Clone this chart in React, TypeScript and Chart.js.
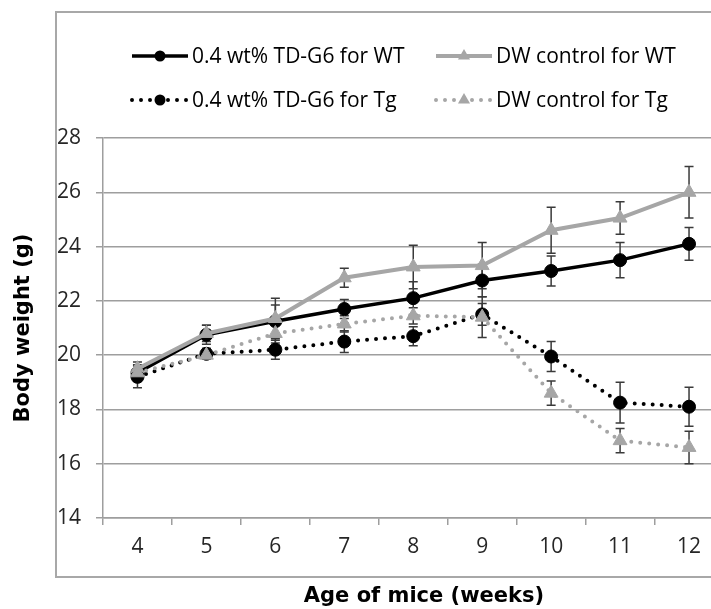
import React, { useEffect, useRef } from 'react';
import { Chart, registerables } from 'chart.js';

Chart.register(...registerables);

// ---- data ----
const weeks = ['4', '5', '6', '7', '8', '9', '10', '11', '12'];
const seriesLabels = [
  '0.4 wt% TD-G6 for WT',
  'DW control for WT',
  '0.4 wt% TD-G6 for Tg',
  'DW control for Tg',
];
const tdWT = [19.35, 20.75, 21.25, 21.7, 22.1, 22.75, 23.1, 23.5, 24.1];
const tdWTErr = [0.3, 0.35, 0.6, 0.35, 0.6, 0.6, 0.55, 0.65, 0.6];
const dwWT = [19.5, 20.8, 21.35, 22.85, 23.25, 23.3, 24.6, 25.05, 26.0];
const dwWTErr = [0.25, 0.3, 0.75, 0.35, 0.8, 0.85, 0.85, 0.6, 0.95];
const tdTg = [19.2, 20.05, 20.2, 20.5, 20.7, 21.5, 19.95, 18.25, 18.1];
const tdTgErr = [0.4, 0.2, 0.35, 0.4, 0.35, 0.4, 0.55, 0.75, 0.72];
const dwTg = [19.35, 20.0, 20.8, 21.15, 21.45, 21.4, 18.6, 16.85, 16.6];
const dwTgErr = [0.3, 0.15, 0.35, 0.3, 0.3, 0.75, 0.45, 0.45, 0.6];
const yMin = 14;
const yMax = 28;
const yStep = 2;
const xTitle = 'Age of mice (weeks)';
const yTitle = 'Body weight (g)';

const errorSets = [tdWTErr, dwWTErr, tdTgErr, dwTgErr];

// ---- styles ----
const BLACK = '#000000';
const GRAY = '#a6a6a6';
const GRID = '#9e9e9e';
const TICK_COLOR = '#262626';
const ERR_COLOR = '#3a3a3a';
const SANS = '"Open Sans", "Noto Sans", sans-serif';
const BOLD = '"DejaVu Sans", sans-serif';

const errorBarPlugin = {
  id: 'errorBars',
  beforeDatasetsDraw(chart: any) {
    const { ctx } = chart;
    const xs = chart.scales.x;
    const ys = chart.scales.y;
    ctx.save();
    ctx.strokeStyle = ERR_COLOR;
    ctx.lineWidth = 1.5;
    ctx.setLineDash([]);
    chart.data.datasets.forEach((ds: any, di: number) => {
      const errs = errorSets[di];
      ds.data.forEach((v: number, i: number) => {
        const px = xs.getPixelForValue(i);
        const top = ys.getPixelForValue(v + errs[i]);
        const bot = ys.getPixelForValue(v - errs[i]);
        const cap = 4.5;
        ctx.beginPath();
        ctx.moveTo(px, top);
        ctx.lineTo(px, bot);
        ctx.moveTo(px - cap, top);
        ctx.lineTo(px + cap, top);
        ctx.moveTo(px - cap, bot);
        ctx.lineTo(px + cap, bot);
        ctx.stroke();
      });
    });
    ctx.restore();
  },
};

// x-axis title, centred on the outer chart frame like the original
const xTitlePlugin = {
  id: 'xTitle',
  afterDraw(chart: any, _args: any, opts: any) {
    const { ctx } = chart;
    ctx.save();
    ctx.fillStyle = '#000';
    ctx.font = opts.font;
    ctx.textAlign = 'center';
    ctx.textBaseline = 'middle';
    ctx.fillText(opts.text, opts.x, opts.y);
    ctx.restore();
  },
};

const legendPlugin = {
  id: 'lineLegend',
  afterDraw(chart: any, _args: any, opts: any) {
    const { ctx } = chart;
    ctx.save();
    chart.data.datasets.forEach((ds: any, i: number) => {
      const col = i % 2;
      const row = Math.floor(i / 2);
      const x0 = opts.cols[col];
      const y = opts.rows[row];
      const len = opts.lineLength;
      ctx.beginPath();
      ctx.strokeStyle = ds.borderColor;
      ctx.lineWidth = ds.borderWidth;
      ctx.lineCap = ds.borderDash && ds.borderDash.length ? 'round' : 'butt';
      ctx.setLineDash(ds.borderDash || []);
      ctx.moveTo(x0, y);
      ctx.lineTo(x0 + len, y);
      ctx.stroke();
      ctx.setLineDash([]);
      const cx = x0 + len / 2;
      ctx.fillStyle = ds.pointBackgroundColor;
      ctx.beginPath();
      if (ds.pointStyle === 'triangle') {
        const r = opts.triRadius;
        for (let k = 0; k < 3; k++) {
          const a = (k * 2 * Math.PI) / 3;
          const px = cx + Math.sin(a) * r;
          const py = y - Math.cos(a) * r;
          if (k === 0) ctx.moveTo(px, py);
          else ctx.lineTo(px, py);
        }
        ctx.closePath();
      } else {
        ctx.arc(cx, y, opts.circleRadius, 0, Math.PI * 2);
      }
      ctx.fill();
      ctx.fillStyle = '#000';
      ctx.font = opts.font;
      ctx.textBaseline = 'middle';
      ctx.textAlign = 'left';
      ctx.fillText(ds.label, x0 + len + opts.gap, y + 1);
    });
    ctx.restore();
  },
};

export default function App() {
  const ref = useRef<HTMLCanvasElement>(null);

  useEffect(() => {
    if (!ref.current) return;
    const chart = new Chart(ref.current, {
      type: 'line',
      data: {
        labels: weeks,
        datasets: [
          {
            label: seriesLabels[0],
            data: tdWT,
            borderColor: BLACK,
            backgroundColor: BLACK,
            borderWidth: 3.5,
            pointStyle: 'circle',
            pointRadius: 6.5,
            pointBorderWidth: 1,
            pointBackgroundColor: BLACK,
            pointBorderColor: BLACK,
            tension: 0,
            order: 3,
          },
          {
            label: seriesLabels[1],
            data: dwWT,
            borderColor: GRAY,
            backgroundColor: GRAY,
            borderWidth: 4,
            pointStyle: 'triangle',
            pointRadius: 8,
            pointBorderWidth: 1,
            pointBackgroundColor: GRAY,
            pointBorderColor: GRAY,
            tension: 0,
            order: 2,
          },
          {
            label: seriesLabels[2],
            data: tdTg,
            borderColor: BLACK,
            backgroundColor: BLACK,
            borderWidth: 4,
            borderDash: [0, 9],
            borderCapStyle: 'round',
            pointStyle: 'circle',
            pointRadius: 6.5,
            pointBorderWidth: 1,
            pointBackgroundColor: BLACK,
            pointBorderColor: BLACK,
            tension: 0,
            order: 1,
          },
          {
            label: seriesLabels[3],
            data: dwTg,
            borderColor: GRAY,
            backgroundColor: GRAY,
            borderWidth: 4,
            borderDash: [0, 9],
            borderCapStyle: 'round',
            pointStyle: 'triangle',
            pointRadius: 8,
            pointBorderWidth: 1,
            pointBackgroundColor: GRAY,
            pointBorderColor: GRAY,
            tension: 0,
            order: 0,
          },
        ] as any,
      },
      options: {
        responsive: false,
        animation: false,
        devicePixelRatio: 1,
        layout: { padding: { left: 0, top: 138, right: 36.5, bottom: 0 } },
        plugins: {
          legend: { display: false },
          tooltip: { enabled: false },
          lineLegend: {
            cols: [132, 436],
            rows: [56, 100],
            lineLength: 56,
            gap: 4,
            circleRadius: 5.5,
            triRadius: 7,
            font: `21px ${SANS}`,
          },
          xTitle: {
            text: xTitle,
            x: 424,
            y: 597,
            font: `bold 21px ${BOLD}`,
          },
        } as any,
        scales: {
          x: {
            type: 'category',
            offset: true,
            afterFit: (s: any) => {
              s.height = 91;
            },
            grid: {
              offset: true,
              drawOnChartArea: false,
              drawTicks: true,
              tickLength: 7,
              color: GRID,
              lineWidth: 1.5,
            },
            border: { display: true, color: GRID, width: 1.5 },
            ticks: {
              color: TICK_COLOR,
              font: { family: SANS, size: 21 },
              padding: 9,
              maxRotation: 0,
            },
            title: { display: false },
          },
          y: {
            min: yMin,
            max: yMax,
            afterFit: (s: any) => {
              s.width = 103;
            },
            grid: {
              drawTicks: true,
              tickLength: 7,
              color: GRID,
              lineWidth: 1.5,
            },
            border: { display: true, color: GRID, width: 1.5 },
            ticks: {
              stepSize: yStep,
              color: TICK_COLOR,
              font: { family: SANS, size: 21 },
              padding: 15,
            },
            title: {
              display: true,
              text: yTitle,
              color: '#000',
              font: { family: BOLD, size: 21, weight: 'bold', lineHeight: 1.2 },
              padding: { top: 11, bottom: 0 },
            },
          },
        },
      },
      plugins: [errorBarPlugin, legendPlugin, xTitlePlugin],
    });
    return () => chart.destroy();
  }, []);

  return (
    <div
      style={{
        position: 'absolute',
        left: 0,
        top: 0,
        width: 711,
        height: 609,
        overflow: 'hidden',
        background: '#fff',
      }}
    >
      <div
        style={{
          position: 'absolute',
          left: 55,
          top: 11,
          width: 730,
          height: 567,
          border: '2px solid #a8a8a8',
          boxSizing: 'border-box',
        }}
      />
      <canvas
        ref={ref}
        width={760}
        height={609}
        style={{ position: 'absolute', left: 0, top: 0, width: 760, height: 609 }}
      />
    </div>
  );
}
